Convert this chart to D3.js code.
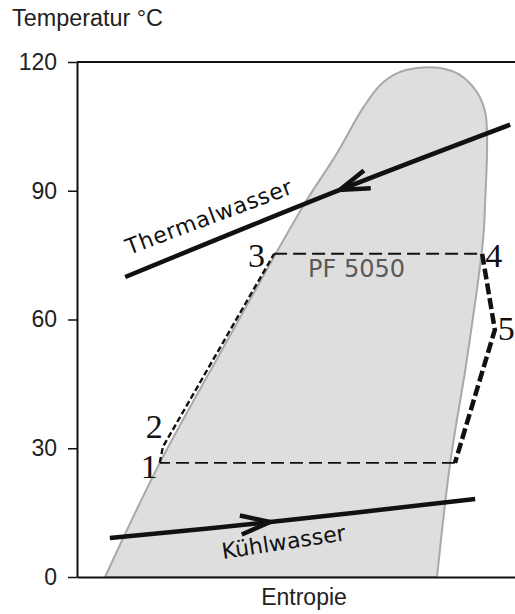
<!DOCTYPE html>
<html>
<head>
<meta charset="utf-8">
<script src="https://cdn.jsdelivr.net/npm/d3@7"></script>
<style>
  body { margin: 0; background: #fff; }
  svg { display: block; font-family: "Liberation Sans", Arial, sans-serif; }
</style>
</head>
<body>
<svg id="canvas"></svg>
<script>
// temperature axis
let tempTicks = [0, 30, 60, 90, 120];

// two-phase dome of PF 5050 (entropy in arbitrary units, T in °C)
let domeS = [6.4, 18.9, 33.1, 45.2, 52.5, 59.1, 65.3, 69.2, 73.1, 77.6, 82.9, 87.4, 91.3, 93.2, 93.6, 93.6, 93.2, 92.7, 89.0, 85.2, 82.2];
let domeT = [0, 26.6, 52.9, 75.0, 87.9, 98.3, 109.3, 114.6, 117.4, 118.6, 118.6, 117.0, 113.0, 108.3, 103.7, 98.3, 87.8, 78.5, 50.6, 26.6, 0];

// ORC cycle state points
let cycleLabels = ["1", "2", "3", "4", "5", ""];
let cycleS = [18.9, 19.6, 45.0, 92.5, 95.4, 86.3];
let cycleT = [26.6, 30.3, 75.3, 75.3, 57.6, 26.6];

// heat source / heat sink streams
let thermalS = [11.0, 60.0, 98.9];
let thermalT = [69.9, 90.2, 105.4];
let coolingS = [7.5, 44.1, 90.9];
let coolingT = [9.1, 12.8, 18.2];

let width = 515;
let height = 614;

let canvas = d3.select("#canvas").attr("width", width).attr("height", height);

let xScale = d3.scaleLinear().domain([0, 100]).range([77, 515]);
let yScale = d3.scaleLinear().domain([0, 120]).range([577, 62]);

let pts = (s, t) => s.map((v, i) => [xScale(v), yScale(t[i])]);

// dome
let domeLine = d3.line().curve(d3.curveCatmullRom.alpha(0.5));
canvas.append("path")
  .attr("d", domeLine(pts(domeS, domeT)) + "Z")
  .attr("fill", "#dedede")
  .attr("stroke", "#a8a8a8")
  .attr("stroke-width", 2);

// cycle
let cyc = pts(cycleS, cycleT);
let segs = [
  { p: [cyc[0], cyc[1], cyc[2]], w: 2.4, dash: "6,3" },
  { p: [cyc[2], cyc[3]], w: 2, dash: "13,6" },
  { p: [cyc[3], cyc[4], cyc[5]], w: 4.5, dash: "11,4" },
  { p: [cyc[5], cyc[0]], w: 1.8, dash: "13,6" }
];
segs.forEach((sg) => {
  canvas.append("path")
    .attr("d", d3.line()(sg.p))
    .attr("fill", "none")
    .attr("stroke", "#111")
    .attr("stroke-width", sg.w)
    .attr("stroke-dasharray", sg.dash);
});

let labelOffsets = [[-19, 15], [-17, -9], [-26, 13], [3, 13], [3, 10]];
cycleLabels.forEach((lab, i) => {
  if (!lab) return;
  canvas.append("text")
    .attr("x", cyc[i][0] + labelOffsets[i][0])
    .attr("y", cyc[i][1] + labelOffsets[i][1])
    .attr("font-family", "'Liberation Serif', 'Times New Roman', serif")
    .attr("font-size", 34)
    .attr("fill", "#111")
    .text(lab);
});

canvas.append("text")
  .attr("x", 308).attr("y", 277)
  .attr("font-family", "'DejaVu Sans', sans-serif")
  .attr("font-size", 24)
  .attr("fill", "#5a5a5a")
  .attr("textLength", 97)
  .attr("lengthAdjust", "spacingAndGlyphs")
  .text("PF 5050");

// streams with arrows
let drawStream = (s, t, tipIdx, backIdx) => {
  let p = pts(s, t);
  canvas.append("path")
    .attr("d", d3.line().curve(d3.curveCatmullRom)(p))
    .attr("fill", "none")
    .attr("stroke", "#111")
    .attr("stroke-width", 4.5);
  let tip = p[tipIdx];
  let back = p[backIdx];
  let ang = Math.atan2(back[1] - tip[1], back[0] - tip[0]);
  let len = 31;
  let spread = 18 * Math.PI / 180;
  let b1 = [tip[0] + len * Math.cos(ang - spread), tip[1] + len * Math.sin(ang - spread)];
  let b2 = [tip[0] + len * Math.cos(ang + spread), tip[1] + len * Math.sin(ang + spread)];
  canvas.append("path")
    .attr("d", d3.line()([b1, tip, b2]))
    .attr("fill", "none")
    .attr("stroke", "#111")
    .attr("stroke-width", 4.5)
    .attr("stroke-linejoin", "miter");
};
drawStream(thermalS, thermalT, 1, 2);
drawStream(coolingS, coolingT, 1, 0);

canvas.append("text")
  .attr("transform", "translate(129,255) rotate(-20.6)")
  .attr("font-family", "'DejaVu Sans', sans-serif")
  .attr("font-size", 22)
  .attr("fill", "#111")
  .attr("textLength", 176)
  .attr("lengthAdjust", "spacing")
  .text("Thermalwasser");

canvas.append("text")
  .attr("transform", "translate(223,559) rotate(-8.7)")
  .attr("font-family", "'DejaVu Sans', sans-serif")
  .attr("font-size", 22)
  .attr("fill", "#111")
  .attr("textLength", 125)
  .attr("lengthAdjust", "spacing")
  .text("Kühlwasser");

// axes
let yAxis = d3.axisLeft(yScale)
  .tickValues(tempTicks)
  .tickSize(9)
  .tickSizeOuter(0)
  .tickPadding(11);
let gy = canvas.append("g")
  .attr("transform", "translate(" + xScale(0) + ",0)")
  .call(yAxis);
gy.select(".domain").attr("stroke", "#111").attr("stroke-width", 2);
gy.selectAll(".tick line").attr("stroke", "#111").attr("stroke-width", 1.5);
gy.selectAll(".tick text")
  .attr("font-size", 23)
  .attr("font-family", "'Liberation Sans', Arial, sans-serif")
  .attr("fill", "#222");

let xAxis = d3.axisBottom(xScale).tickValues([]).tickSizeOuter(0);
canvas.append("g")
  .attr("transform", "translate(0," + yScale(0) + ")")
  .call(xAxis)
  .select(".domain").attr("stroke", "#111").attr("stroke-width", 2);

canvas.append("line")
  .attr("x1", xScale(0)).attr("x2", xScale(100))
  .attr("y1", yScale(120)).attr("y2", yScale(120))
  .attr("stroke", "#111")
  .attr("stroke-width", 2);

canvas.append("text")
  .attr("x", 12).attr("y", 26)
  .attr("font-size", 23)
  .attr("fill", "#222")
  .attr("textLength", 151)
  .attr("lengthAdjust", "spacingAndGlyphs")
  .text("Temperatur °C");

canvas.append("text")
  .attr("x", 304).attr("y", 605)
  .attr("text-anchor", "middle")
  .attr("font-size", 23)
  .attr("fill", "#222")
  .text("Entropie");
</script>
</body>
</html>
